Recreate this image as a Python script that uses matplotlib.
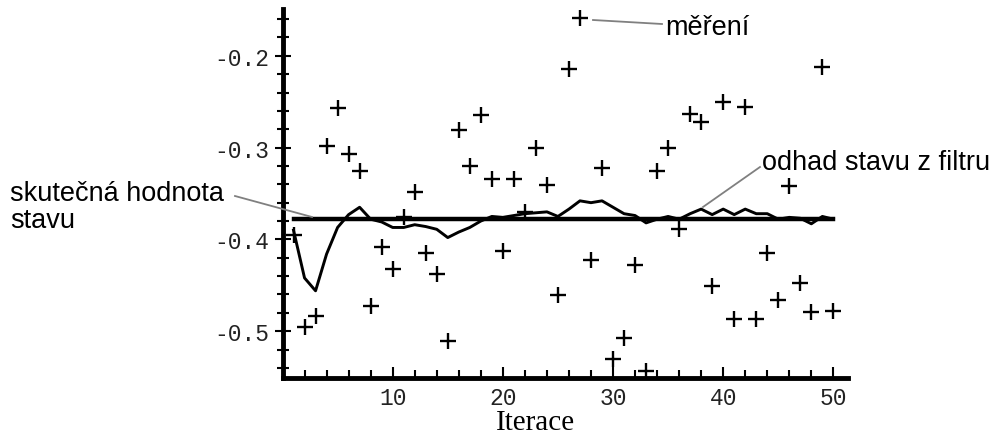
import matplotlib
matplotlib.use("Agg")
import matplotlib.pyplot as plt
from matplotlib.lines import Line2D
from matplotlib.ticker import MultipleLocator, FixedLocator

# ---- data ----
iterations = list(range(1, 51))
measurements = [-0.395, -0.495, -0.483, -0.298, -0.257, -0.307, -0.326, -0.473, -0.408, -0.432,
                -0.376, -0.348, -0.415, -0.438, -0.511, -0.281, -0.320, -0.264, -0.334, -0.413,
                -0.334, -0.370, -0.300, -0.341, -0.461, -0.214, -0.159, -0.422, -0.322, -0.530,
                -0.507, -0.428, -0.543, -0.325, -0.300, -0.389, -0.263, -0.272, -0.451, -0.250,
                -0.487, -0.256, -0.487, -0.415, -0.466, -0.342, -0.447, -0.479, -0.212, -0.478]
estimate = [-0.390, -0.442, -0.456, -0.416, -0.387, -0.373, -0.365, -0.378, -0.381, -0.387,
            -0.387, -0.384, -0.386, -0.389, -0.398, -0.392, -0.387, -0.380, -0.375, -0.376,
            -0.374, -0.372, -0.371, -0.370, -0.375, -0.367, -0.358, -0.360, -0.358, -0.365,
            -0.372, -0.374, -0.382, -0.378, -0.375, -0.378, -0.372, -0.367, -0.373, -0.367,
            -0.373, -0.367, -0.372, -0.372, -0.378, -0.376, -0.377, -0.383, -0.375, -0.378]
true_value = -0.378
y_tick_labels = ["-0.5", "-0.4", "-0.3", "-0.2"]
x_tick_labels = ["10", "20", "30", "40", "50"]

W, H = 1003, 439
fig = plt.figure(figsize=(W / 100, H / 100), dpi=100)

def fx(px):
    return px / W

def fy(py):
    return 1 - py / H

ax = fig.add_axes([fx(282.5), fy(379), fx(847.7) - fx(282.5), fy(10) - fy(379)])
ax.set_xlim(0, 51.3)
ax.set_ylim(-0.551, -0.149)

# marks
ax.plot(iterations, measurements, linestyle='none', marker='+', markersize=11,
        markeredgewidth=1.7, color='black', zorder=3)
ax.plot([iterations[0], iterations[-1]], [true_value, true_value], color='black', lw=3.2, zorder=2)
ax.plot(iterations, estimate, color='black', lw=2.1, zorder=2)

# spines
for s in ['top', 'right']:
    ax.spines[s].set_visible(False)
ax.spines['left'].set_position(('data', 0))
ax.spines['left'].set_linewidth(3.5)
ax.spines['bottom'].set_linewidth(3.5)

# ticks
ax.yaxis.set_major_locator(FixedLocator([-0.5, -0.4, -0.3, -0.2]))
ax.set_yticklabels(y_tick_labels)
ax.yaxis.set_minor_locator(FixedLocator([-0.54 + 0.02 * i for i in range(20)]))
ax.xaxis.set_major_locator(FixedLocator([10, 20, 30, 40, 50]))
ax.set_xticklabels(x_tick_labels)
ax.xaxis.set_minor_locator(FixedLocator([2 * i for i in range(1, 26)]))

ax.tick_params(axis='y', which='major', direction='inout', length=11, width=1.5, pad=4)
ax.tick_params(axis='y', which='minor', direction='inout', length=8, width=1.5)
ax.tick_params(axis='x', which='major', direction='in', length=8, width=1.5, pad=6)
ax.tick_params(axis='x', which='minor', direction='in', length=6, width=1.5)
for lab in ax.get_xticklabels() + ax.get_yticklabels():
    lab.set_fontfamily('Liberation Mono')
    lab.set_fontsize(16.5)
    lab.set_color('#222222')

# axis label
fig.text(fx(536), fy(430), "Iterace", ha='center', va='baseline',
         fontfamily='Liberation Serif', fontsize=21)

# annotations
afont = dict(fontfamily='Liberation Sans', fontsize=19.5, color='black', va='baseline', ha='left')
fig.text(fx(665), fy(35), "měření", **afont)
fig.text(fx(762), fy(170), "odhad stavu z filtru", **afont)
fig.text(fx(10), fy(201), "skutečná hodnota", **afont)
fig.text(fx(10), fy(228), "stavu", **afont)

for (x0, y0), (x1, y1) in [((593, 21), (662, 25)), ((703, 208), (760, 168)), ((235, 197), (312, 218))]:
    fig.add_artist(Line2D([fx(x0), fx(x1)], [fy(y0), fy(y1)], transform=fig.transFigure,
                          color='#808080', lw=1.3))

fig.savefig("out.png", dpi=100)
